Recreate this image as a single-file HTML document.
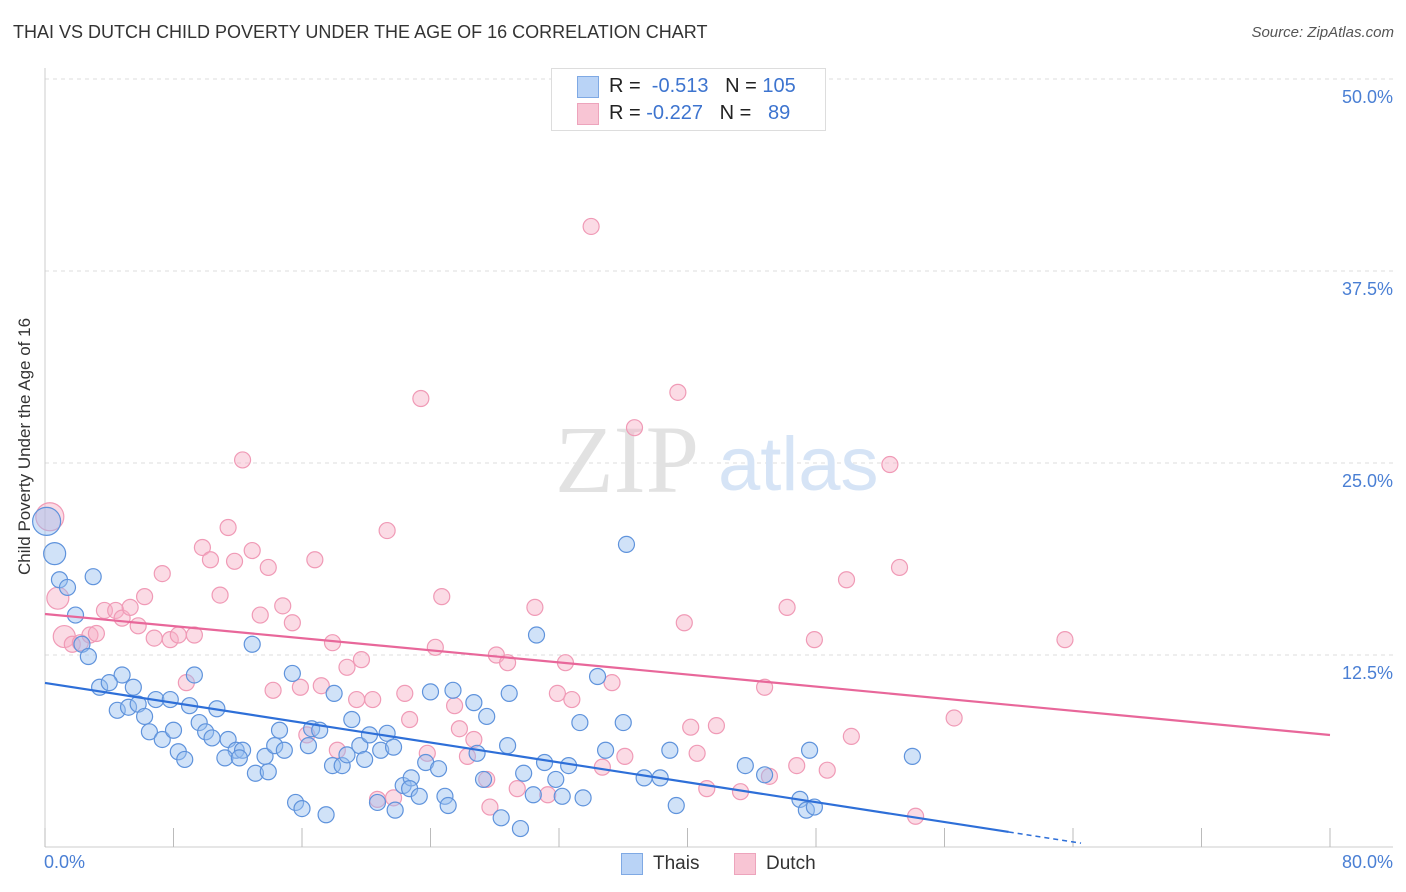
<!DOCTYPE html>
<html><head><meta charset="utf-8">
<style>
body{margin:0;background:#fff;font-family:"Liberation Sans",sans-serif;}
#wrap{position:relative;width:1406px;height:892px;overflow:hidden;}
.t{position:absolute;white-space:nowrap;}
</style></head>
<body>
<div id="wrap">
<div class="t" style="left:13px;top:22px;font-size:18px;color:#333;">THAI VS DUTCH CHILD POVERTY UNDER THE AGE OF 16 CORRELATION CHART</div>
<div class="t" style="right:12px;top:24px;font-size:15px;color:#555;font-style:italic;">Source: ZipAtlas.com</div>
<svg id="svg" width="1406" height="892" style="position:absolute;left:0;top:0"></svg>
</div>
<script>
const thaiX=[0.1,0.6,0.9,1.4,3.0,1.9,2.3,2.7,4.8,3.4,4.0,5.5,4.5,5.2,5.8,6.2,6.9,7.8,9.3,6.5,7.3,8.0,9.0,9.6,10.7,8.3,8.7,10.0,10.4,11.4,11.9,12.3,11.2,12.1,12.9,13.1,13.9,13.7,14.3,14.6,14.9,15.4,16.4,16.6,17.1,18.0,15.6,16.0,17.5,17.9,18.5,18.8,19.1,19.6,19.9,20.2,20.9,21.3,21.7,20.7,21.8,22.3,22.8,22.7,23.3,23.7,24.5,24.0,24.9,25.1,25.4,26.7,27.5,26.9,27.3,28.4,28.8,28.9,29.6,29.8,30.4,30.6,31.1,31.8,32.2,32.6,33.5,33.3,34.4,34.9,36.0,36.2,37.3,38.3,38.9,39.3,43.6,44.8,47.6,47.0,47.4,47.9,54.0];
const thaiY=[21.2,19.1,17.4,16.9,17.6,15.1,13.2,12.4,11.2,10.4,10.7,10.4,8.9,9.1,9.3,8.5,9.6,9.6,11.2,7.5,7.0,7.6,9.2,8.1,9.0,6.2,5.7,7.5,7.1,7.0,6.3,6.3,5.8,5.8,13.2,4.8,4.9,5.9,6.6,7.6,6.3,11.3,6.6,7.7,7.6,10.0,2.9,2.5,2.1,5.3,5.3,6.0,8.3,6.6,5.7,7.3,6.3,7.4,6.5,2.9,2.4,4.0,4.5,3.8,3.3,5.5,5.1,10.1,3.3,2.7,10.2,9.4,8.5,6.1,4.4,1.9,6.6,10.0,1.2,4.8,3.4,13.8,5.5,4.4,3.3,5.3,3.2,8.1,11.1,6.3,8.1,19.7,4.5,4.5,6.3,2.7,5.3,4.7,6.3,3.1,2.4,2.6,5.9];
const dutchX=[0.3,0.8,1.2,1.7,2.2,2.8,3.2,3.7,4.4,4.8,5.3,5.8,6.2,6.8,7.3,7.8,8.3,8.8,9.3,9.8,10.3,10.9,11.4,11.8,12.3,12.9,13.4,13.9,14.2,14.8,15.4,15.9,16.3,16.8,17.2,17.9,18.2,18.8,19.4,19.7,20.4,20.7,21.3,21.7,22.4,22.7,23.4,23.8,24.3,24.7,25.5,25.8,26.3,26.7,27.5,27.7,28.1,28.8,29.4,30.5,31.3,31.9,32.4,32.8,34.0,34.7,35.3,36.1,36.7,39.4,39.8,40.2,40.6,41.2,41.8,43.3,44.8,45.1,46.2,46.8,47.9,48.7,49.9,50.2,52.6,53.2,54.2,56.6,63.5];
const dutchY=[21.5,16.2,13.7,13.2,13.3,13.8,13.9,15.4,15.4,14.9,15.6,14.4,16.3,13.6,17.8,13.5,13.8,10.7,13.8,19.5,18.7,16.4,20.8,18.6,25.2,19.3,15.1,18.2,10.2,15.7,14.6,10.4,7.3,18.7,10.5,13.3,6.3,11.7,9.6,12.2,9.6,3.1,20.6,3.2,10.0,8.3,29.2,6.1,13.0,16.3,9.2,7.7,5.9,7.0,4.4,2.6,12.5,12.0,3.8,15.6,3.4,10.0,12.0,9.6,40.4,5.2,10.7,5.9,27.3,29.6,14.6,7.8,6.1,3.8,7.9,3.6,10.4,4.6,15.6,5.3,13.5,5.0,17.4,7.2,24.9,18.2,2.0,8.4,13.5];
const thaiTrend=[10.68,0.98]; // at x=0 and x=60
const dutchTrend=[15.17,7.29]; // at x=0 and x=80
const yTicks=[12.5,25.0,37.5,50.0];

const X=v=>45+v*16.0625, Y=v=>847-v*15.36;
const svg=document.getElementById('svg'),NS='http://www.w3.org/2000/svg';
function mk(t,a,p){const e=document.createElementNS(NS,t);for(const k in a)e.setAttribute(k,a[k]);(p||svg).appendChild(e);return e;}
// grid
for(const t of yTicks){const g=mk('line',{x1:45,x2:1393,y1:Y(t),y2:Y(t),stroke:'#ddd','stroke-dasharray':'4,4'});

const l=mk('text',{x:1393,y:Y(t)+24,'text-anchor':'end','font-size':18,fill:'#4a7fd4','font-family':'Liberation Sans'});l.textContent=t.toFixed(1)+'%';
}
const ax=mk('line',{x1:45,x2:45,y1:68,y2:847,stroke:'#ccc'});
const bx=mk('line',{x1:45,x2:1393,y1:847,y2:847,stroke:'#ccc'});
for(let i=0;i<=10;i++){const tk=mk('line',{x1:X(i*8),x2:X(i*8),y1:828,y2:847,stroke:'#bbb'});}
// watermark
const w=mk('text',{x:555,y:492,'font-size':96,fill:'#e2e2e2','font-family':'Liberation Serif'});w.textContent='ZIP';

const w2=mk('text',{x:718,y:490,'font-size':76,fill:'#d6e4f6','font-family':'Liberation Sans'});w2.textContent='atlas';

// points
function pts(xs,ys,fill,stroke,name){for(let i=0;i<xs.length;i++){const big=i<(name=='dutch-point'?3:2);
const c=mk('circle',{cx:X(xs[i]),cy:Y(ys[i]),r:big?(i==0?14:11):8,fill:fill,stroke:stroke,'stroke-width':1.2});
}}
pts(dutchX,dutchY,'rgba(246,176,198,0.45)','#f09ab6','dutch-point');
pts(thaiX,thaiY,'rgba(150,190,240,0.45)','#5f93dc','thai-point');
// trends
let tl=mk('line',{x1:X(0),y1:Y(thaiTrend[0]),x2:X(60),y2:Y(thaiTrend[1]),stroke:'#2e6fd8','stroke-width':2.2});

const s=(thaiTrend[1]-thaiTrend[0])/60;
tl=mk('line',{x1:X(60),y1:Y(thaiTrend[1]),x2:X(64.5),y2:Y(thaiTrend[0]+s*64.5),stroke:'#2e6fd8','stroke-width':1.5,'stroke-dasharray':'5,4'});

tl=mk('line',{x1:X(0),y1:Y(dutchTrend[0]),x2:X(80),y2:Y(dutchTrend[1]),stroke:'#e8679a','stroke-width':2.2});

</script>
<div class="t" style="left:44px;top:852px;font-size:18px;color:#4a7fd4;">0.0%</div>
<div class="t" style="right:13px;top:852px;font-size:18px;color:#4a7fd4;">80.0%</div>
<div class="t" style="left:-95px;top:445px;font-size:17px;color:#333;transform:rotate(-90deg);width:240px;text-align:center;">Child Poverty Under the Age of 16</div>
<div style="position:absolute;left:551px;top:68px;width:273px;height:61px;border:1px solid #ddd;background:#fff;font-size:20px;">
 <div style="position:absolute;left:25px;top:7px;width:20px;height:20px;background:#b9d3f6;border:1px solid #7fa9e4;"></div>
 <div class="t" style="left:57px;top:6px;color:#222;">R = &nbsp;<span style="color:#3d74cf">-0.513</span>&nbsp;&nbsp;&nbsp;N = <span style="color:#3d74cf">105</span></div>
 <div style="position:absolute;left:25px;top:34px;width:20px;height:20px;background:#f8c5d4;border:1px solid #eda4bc;"></div>
 <div class="t" style="left:57px;top:33px;color:#222;">R = <span style="color:#3d74cf">-0.227</span>&nbsp;&nbsp;&nbsp;N = &nbsp;&nbsp;<span style="color:#3d74cf">89</span></div>
</div>
<div style="position:absolute;left:621px;top:853px;font-size:19px;color:#333;">
 <div style="position:absolute;left:0;top:0;width:20px;height:20px;background:#b9d3f6;border:1px solid #7fa9e4;"></div>
 <div class="t" style="left:32px;top:0;">Thais</div>
 <div style="position:absolute;left:113px;top:0;width:20px;height:20px;background:#f8c5d4;border:1px solid #eda4bc;"></div>
 <div class="t" style="left:145px;top:0;">Dutch</div>
</div>
</body></html>
